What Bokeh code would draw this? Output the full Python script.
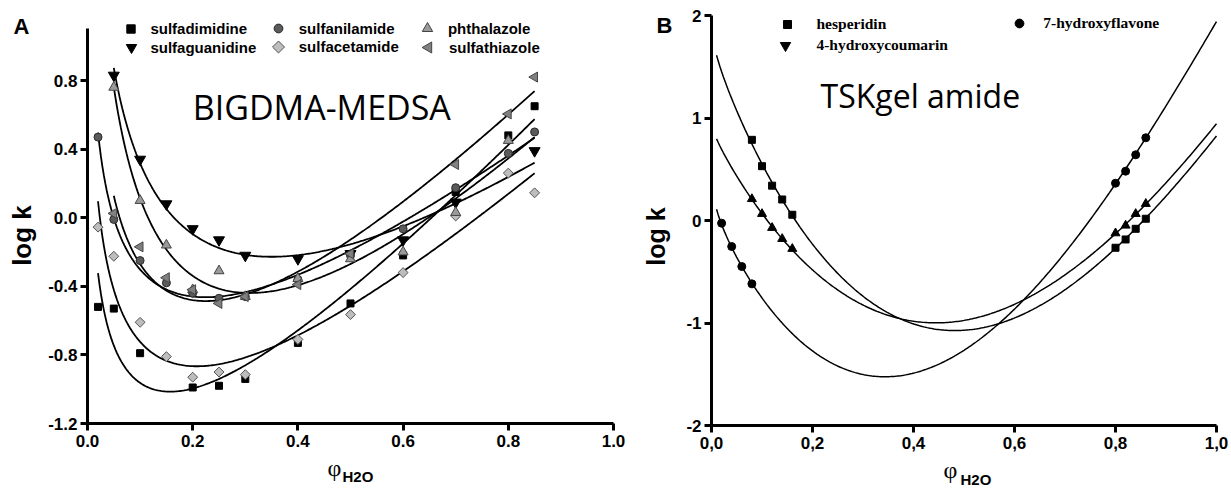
import numpy as np
from bokeh.plotting import figure
from bokeh.layouts import row
from bokeh.models import Legend, LegendItem, Label, FixedTicker, Range1d
from bokeh.embed import file_html
from bokeh.resources import INLINE

# ---------------- Panel A data (BIGDMA-MEDSA) ----------------
sd_x = [0.02, 0.05, 0.10, 0.20, 0.25, 0.30, 0.40, 0.50, 0.60, 0.70, 0.80, 0.85]
sd_y = [-0.52, -0.53, -0.79, -0.99, -0.98, -0.94, -0.73, -0.50, -0.22, 0.15, 0.48, 0.65]

sg_x = [0.05, 0.10, 0.15, 0.20, 0.25, 0.30, 0.40, 0.50, 0.60, 0.70, 0.85]
sg_y = [0.83, 0.34, 0.08, -0.065, -0.13, -0.22, -0.24, -0.21, -0.13, 0.09, 0.39]

sn_x = [0.02, 0.05, 0.10, 0.15, 0.20, 0.25, 0.30, 0.40, 0.50, 0.60, 0.70, 0.80, 0.85]
sn_y = [0.47, -0.01, -0.25, -0.38, -0.44, -0.47, -0.46, -0.36, -0.22, -0.065, 0.175, 0.375, 0.50]

sc_x = [0.02, 0.05, 0.10, 0.15, 0.20, 0.25, 0.30, 0.40, 0.50, 0.60, 0.70, 0.80, 0.85]
sc_y = [-0.055, -0.225, -0.61, -0.81, -0.93, -0.90, -0.915, -0.71, -0.565, -0.32, 0.01, 0.26, 0.145]

ph_x = [0.05, 0.10, 0.15, 0.20, 0.25, 0.30, 0.40, 0.50, 0.60, 0.70, 0.80]
ph_y = [0.76, 0.10, -0.16, -0.42, -0.31, -0.46, -0.355, -0.24, -0.20, 0.03, 0.45]

st_x = [0.05, 0.10, 0.15, 0.20, 0.25, 0.30, 0.40, 0.50, 0.70, 0.80, 0.85]
st_y = [0.025, -0.17, -0.35, -0.42, -0.50, -0.46, -0.39, -0.21, 0.31, 0.605, 0.82]

A_ticks_x = [0.0, 0.2, 0.4, 0.6, 0.8, 1.0]
A_ticks_y = [-1.2, -0.8, -0.4, 0.0, 0.4, 0.8]
A_labels_x = ["0.0", "0.2", "0.4", "0.6", "0.8", "1.0"]
A_labels_y = ["-1.2", "-0.8", "-0.4", "0.0", "0.4", "0.8"]

# ---------------- Panel B data (TSKgel amide) ----------------
hp_x = [0.08, 0.10, 0.12, 0.14, 0.16, 0.80, 0.82, 0.84, 0.86]
hp_y = [0.787, 0.53, 0.34, 0.205, 0.056, -0.266, -0.185, -0.081, 0.017]
hc_x = [0.08, 0.10, 0.12, 0.14, 0.16, 0.80, 0.82, 0.84, 0.86]
hc_y = [0.21, 0.065, -0.071, -0.179, -0.276, -0.124, -0.049, 0.065, 0.163]
hf_x = [0.02, 0.04, 0.06, 0.08, 0.80, 0.82, 0.84, 0.86]
hf_y = [-0.026, -0.254, -0.449, -0.618, 0.364, 0.481, 0.641, 0.807]

# values (used together with the data for the fit)
hp_cx = [0.01, 0.378, 0.434, 0.569, 1.0]
hp_cy = [1.61, -0.969, -1.057, -0.992, 0.83]
hc_cx = [0.01, 0.378, 0.434, 0.613, 1.0]
hc_cy = [0.797, -0.969, -0.992, -0.79, 0.943]
hf_cx = [0.01, 0.331, 0.434, 0.569, 0.613, 1.0]
hf_cy = [0.098, -1.54, -1.43, -0.992, -0.79, 1.95]

B_ticks_x = [0.0, 0.2, 0.4, 0.6, 0.8, 1.0]
B_ticks_y = [-2, -1, 0, 1, 2]
B_labels_x = ["0,0", "0,2", "0,4", "0,6", "0,8", "1,0"]
B_labels_y = ["-2", "-1", "0", "1", "2"]

SANS = "Liberation Sans"
SERIF = "Liberation Serif"
H = 488
WA, WB = 636, 595

# pixel geometry of the two frames (window coordinates)
A_X0, A_XS, A_Y0, A_YS = 87.0, 526.0, 423.0, 171.5      # x=0 -> 87, y=-1.2 -> 423
B_X0, B_XS, B_Y0, B_YS = 711.0, 505.0, 220.0, 102.5     # x=0 -> 711, y=0 -> 220


def fit_mixed(x, y, x0, x1):
    x = np.asarray(x, float); y = np.asarray(y, float)
    M = np.column_stack([np.ones_like(x), np.log10(x), x])
    c, *_ = np.linalg.lstsq(M, y, rcond=None)
    xs = np.linspace(x0, x1, 300)
    return xs, c[0] + c[1] * np.log10(xs) + c[2] * xs


def fit_smooth(x, y, cx, cy, x0, x1):
    xx = np.concatenate([np.asarray(x, float), np.asarray(cx, float)])
    yy = np.concatenate([np.asarray(y, float), np.asarray(cy, float)])
    basis = lambda t: np.column_stack([np.ones_like(t), t, t ** 2, t ** 3, np.log(t)])
    c, *_ = np.linalg.lstsq(basis(xx), yy, rcond=None)
    xs = np.linspace(x0, x1, 300)
    return xs, basis(xs) @ c


def make_fig(width, xr, yr, xbounds, ybounds, xt, yt, xlab, ylab):
    p = figure(width=width, height=H, output_backend="svg", toolbar_location=None,
               title=None, x_range=Range1d(*xr), y_range=Range1d(*yr),
               min_border=0, min_border_left=0, min_border_right=0,
               min_border_top=0, min_border_bottom=0)
    p.xaxis.fixed_location = ybounds[0]
    p.yaxis.fixed_location = xbounds[0]
    p.xaxis.bounds = xbounds
    p.yaxis.bounds = ybounds
    for ax in (p.xaxis[0], p.yaxis[0]):
        ax.axis_line_width = 3
        ax.axis_line_color = "black"
        ax.major_tick_line_width = 3
        ax.major_tick_line_color = "black"
        ax.major_tick_out = 7
        ax.major_tick_in = 0
        ax.minor_tick_line_color = None
        ax.major_label_text_font = SANS
        ax.major_label_text_font_style = "bold"
        ax.major_label_text_font_size = "17px"
        ax.major_label_text_color = "black"
    p.xaxis[0].ticker = FixedTicker(ticks=xt)
    p.yaxis[0].ticker = FixedTicker(ticks=yt)
    p.xaxis[0].major_label_overrides = {t: s for t, s in zip(xt, xlab)}
    p.yaxis[0].major_label_overrides = {t: s for t, s in zip(yt, ylab)}
    p.xaxis[0].major_label_standoff = 4
    p.yaxis[0].major_label_standoff = 3
    p.xgrid.visible = False
    p.ygrid.visible = False
    p.outline_line_color = None
    return p


def legend_row(p, frame_left, label, renderer, key_cx, key_cy, key_size, text_x, font, size):
    """One legend entry whose key is centred at window pixel (key_cx, key_cy)."""
    g = key_size / 0.4               # bokeh draws a scatter key at 0.4 * glyph box
    loc = (key_cx - g / 2 - frame_left, H - key_cy - g / 2)
    L = Legend(items=[LegendItem(label=label, renderers=[renderer])], location=loc,
               glyph_width=int(round(g)), glyph_height=int(round(g)), label_height=int(round(g)),
               label_standoff=int(round(text_x - (key_cx + g / 2))), spacing=0, padding=0, margin=0,
               border_line_color=None, background_fill_alpha=0,
               label_text_font=font, label_text_font_style="bold",
               label_text_font_size=size, label_text_color="black",
               label_text_baseline="middle")
    p.add_layout(L)


def text(p, x, y, s, font, size, style="normal", angle=0, align="center", baseline="middle"):
    p.add_layout(Label(x=x, y=y, text=s, text_font=font, text_font_size=size,
                       text_font_style=style, angle=angle, text_color="black",
                       text_align=align, text_baseline=baseline))


# ================= Panel A =================
pA = make_fig(WA, (-A_X0 / A_XS, (WA - A_X0) / A_XS),
              ((A_Y0 - H) / A_YS - 1.2, A_Y0 / A_YS - 1.2),
              (0.0, 1.0), (-1.2, 1.103), A_ticks_x, A_ticks_y, A_labels_x, A_labels_y)

for xs_, ys_, x0 in [(sd_x, sd_y, 0.02), (sg_x, sg_y, 0.05), (sn_x, sn_y, 0.02),
                     (sc_x, sc_y, 0.02), (ph_x, ph_y, 0.05), (st_x, st_y, 0.05)]:
    cx, cy = fit_mixed(xs_, ys_, x0, 0.85)
    pA.line(cx, cy, line_color="black", line_width=1.8)

sty = {
    "sd": dict(marker="square", size=7, fill_color="black", line_color="black"),
    "sg": dict(marker="inverted_triangle", size=11, fill_color="black", line_color="black"),
    "sn": dict(marker="circle", size=8, fill_color="#5a5a5a", line_color="#2a2a2a"),
    "sc": dict(marker="square", angle=np.pi / 4, size=7, fill_color="#bdbdbd", line_color="#555555"),
    "ph": dict(marker="triangle", size=10, fill_color="#9a9a9a", line_color="#444444"),
    "st": dict(marker="triangle", angle=np.pi / 2, size=10, fill_color="#808080", line_color="#444444"),
}
r_sd = pA.scatter(sd_x, sd_y, **sty["sd"])
r_sg = pA.scatter(sg_x, sg_y, **sty["sg"])
r_sn = pA.scatter(sn_x, sn_y, **sty["sn"])
r_sc = pA.scatter(sc_x, sc_y, **sty["sc"])
r_ph = pA.scatter(ph_x, ph_y, **sty["ph"])
r_st = pA.scatter(st_x, st_y, **sty["st"])

# rotated markers: bokeh draws legend keys unrotated, so draw those two keys directly
blank = pA.scatter([np.nan], [np.nan], marker="square", size=1, fill_alpha=0, line_alpha=0)
for key, (kx, ky) in {"sc": (278, 46.5), "st": (428, 47)}.items():
    pA.scatter([(kx - A_X0) / A_XS], [(A_Y0 - ky) / A_YS - 1.2], **{**sty[key], "size": 8.5 if key == "sc" else 11})

legend_row(pA, 0, "sulfadimidine", r_sd, 131, 28, 8.5, 151, SANS, "15px")
legend_row(pA, 0, "sulfaguanidine", r_sg, 131.5, 47, 10.5, 151, SANS, "15px")
legend_row(pA, 0, "sulfanilamide", r_sn, 278, 28, 9, 299, SANS, "15px")
legend_row(pA, 0, "sulfacetamide", blank, 278, 46.5, 9, 299, SANS, "15px")
legend_row(pA, 0, "phthalazole", r_ph, 427, 28, 10.5, 448, SANS, "15px")
legend_row(pA, 0, "sulfathiazole", blank, 428, 47, 10.5, 449, SANS, "15px")

text(pA, 0.2, 0.643, "BIGDMA-MEDSA", "Open Sans", "34px", align="left", baseline="alphabetic")
text(pA, -0.1255, 1.115, "A", SANS, "22px", "bold")
text(pA, -0.124, -0.104, "log k", SANS, "26px", "bold", angle=np.pi / 2)
text(pA, 0.4696, -1.4566, "φ", SERIF, "24px")
text(pA, 0.4848, -1.509, "H2O", SANS, "15px", "bold", align="left")

# ================= Panel B =================
B_LEFT = WA
pB = make_fig(WB, ((B_LEFT - B_X0) / B_XS, (B_LEFT + WB - B_X0) / B_XS),
              ((B_Y0 - H) / B_YS, B_Y0 / B_YS),
              (0.0, 1.0), (-2, 2), B_ticks_x, B_ticks_y, B_labels_x, B_labels_y)

for xs_, ys_, cxs, cys in [(hp_x, hp_y, hp_cx, hp_cy), (hc_x, hc_y, hc_cx, hc_cy),
                           (hf_x, hf_y, hf_cx, hf_cy)]:
    cx, cy = fit_smooth(xs_, ys_, cxs, cys, 0.01, 1.0)
    pB.line(cx, cy, line_color="black", line_width=1.5)

r_hp = pB.scatter(hp_x, hp_y, marker="square", size=7, fill_color="black", line_color="black")
r_hc = pB.scatter(hc_x, hc_y, marker="triangle", size=9, fill_color="black", line_color="black")
r_hf = pB.scatter(hf_x, hf_y, marker="circle", size=8, fill_color="black", line_color="black")
r_hc_leg = pB.scatter([np.nan], [np.nan], marker="inverted_triangle", size=11,
                      fill_color="black", line_color="black")

legend_row(pB, B_LEFT, "hesperidin", r_hp, 786.5, 23.5, 8, 817, SERIF, "15.5px")
legend_row(pB, B_LEFT, "4-hydroxycoumarin", r_hc_leg, 785.5, 44.5, 10.5, 817, SERIF, "15.5px")
legend_row(pB, B_LEFT, "7-hydroxyflavone", r_hf, 1019.5, 22.5, 9, 1044, SERIF, "15.5px")

text(pB, 0.216, 1.22, "TSKgel amide", "Open Sans", "32px", align="left", baseline="alphabetic")
text(pB, -0.093, 1.902, "B", SANS, "22px", "bold")
text(pB, (655 - B_X0) / B_XS, -0.156, "log k", SANS, "25px", "bold", angle=np.pi / 2)
text(pB, 0.4733, -2.439, "φ", SERIF, "24px")
text(pB, 0.493, -2.527, "H2O", SANS, "15px", "bold", align="left")

layout = row(pA, pB)
open("out.html", "w").write(file_html(layout, INLINE))
